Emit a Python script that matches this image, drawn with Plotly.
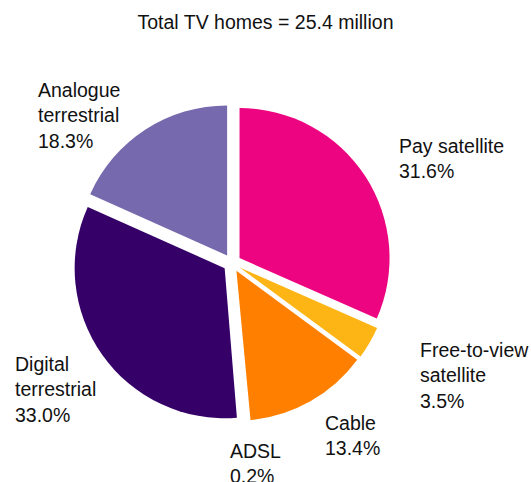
import plotly.graph_objects as go

# Share of UK TV homes by main platform
platforms = ["Pay satellite", "Free-to-view satellite", "Cable", "ADSL",
             "Digital terrestrial", "Analogue terrestrial"]
shares = [31.6, 3.5, 13.4, 0.2, 33.0, 18.3]
label_lines = [["Pay satellite"], ["Free-to-view", "satellite"], ["Cable"],
               ["ADSL"], ["Digital", "terrestrial"], ["Analogue", "terrestrial"]]
colors = ["#ED0481", "#FDB515", "#FF8000", "#FFFFFF", "#350068", "#7769AD"]
total_homes = 25.4

W, H = 531, 482
FONT = "Liberation Sans, Arial, Helvetica, sans-serif"

# label block anchors (left, top) in pixels
label_pos = [(397, 133), (418, 337), (323, 410), (228, 438), (13, 351), (36, 77)]

fig = go.Figure(go.Pie(
    labels=platforms,
    values=shares,
    sort=False,
    direction="clockwise",
    rotation=0,
    pull=[0.06] * len(shares),
    marker=dict(colors=colors, line=dict(width=0)),
    textinfo="none",
    hoverinfo="label+percent",
    showlegend=False,
    domain=dict(x=[(232 - 159) / W, (232 + 159) / W],
                y=[(H - 263 - 159) / H, (H - 263 + 159) / H]),
))

annotations = []
for lines, val, (px, py) in zip(label_lines, shares, label_pos):
    annotations.append(dict(
        text="<br>".join(lines + [f"{val:.1f}%"]),
        x=px / W, y=1 - py / H, xref="paper", yref="paper",
        xanchor="left", yanchor="top", align="left",
        showarrow=False,
        font=dict(family=FONT, size=19.5, color="#111111"),
    ))

fig.update_layout(
    width=W, height=H,
    margin=dict(l=0, r=0, t=0, b=0),
    paper_bgcolor="white",
    plot_bgcolor="white",
    title=dict(text=f"Total TV homes = {total_homes} million",
               x=0.5, xanchor="center", y=1 - 15 / H, yanchor="top",
               font=dict(family=FONT, size=19.5, color="#111111")),
    annotations=annotations,
)

fig.write_html("out.html")
